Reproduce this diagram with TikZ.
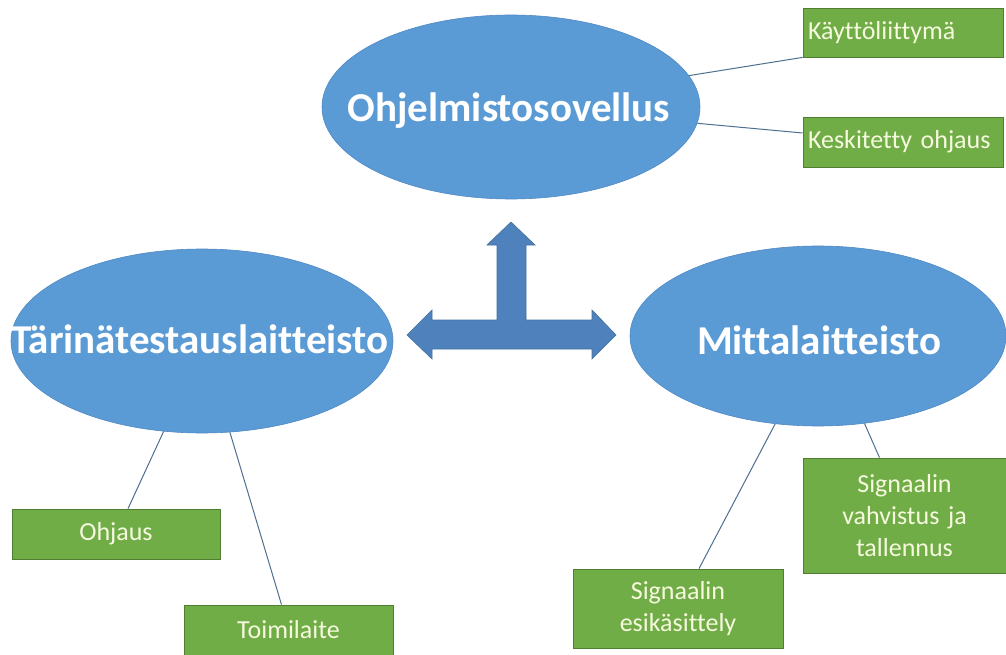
\documentclass[tikz,border=0pt]{standalone}
\usepackage{fontspec}
\setmainfont{Carlito}[RawFeature=-liga]
\usetikzlibrary{shapes.geometric,calc}
\definecolor{ellblue}{HTML}{5B9BD5}
\definecolor{ellborder}{HTML}{5089C4}
\definecolor{arrblue}{HTML}{4F81BD}
\definecolor{arrborder}{HTML}{41719C}
\definecolor{boxgreen}{HTML}{70AD47}
\definecolor{boxborder}{HTML}{507E32}
\definecolor{boxtext}{HTML}{F6F9DE}
\definecolor{linkcol}{HTML}{4F6F8F}
\tikzset{
  ell/.style={ellipse, fill=ellblue, draw=ellborder, line width=0.6pt, inner sep=0pt},
  elltext/.style={text=white, font=\bfseries\fontsize{41}{48}\selectfont, inner sep=0pt, anchor=base},
  gbox/.style={rectangle, fill=boxgreen, draw=boxborder, line width=0.8pt, inner xsep=5pt, inner ysep=0pt,
    text=boxtext, font=\fontsize{26}{32}\selectfont},
  link/.style={draw=linkcol, line width=1pt}
}
\begin{document}
\begin{tikzpicture}[x=1pt,y=-1pt]
\useasboundingbox (0,0) rectangle (1006,655);
\fill[white] (0,0) rectangle (1006,655);

% ellipses
\node[ell, minimum width=378pt, minimum height=184pt] (ohj) at (511,107) {};
\node[elltext] (ohjt) at (509,122) {Ohjelmistosovellus};
\node[ell, minimum width=382pt, minimum height=184pt] (tar) at (202,341) {};
\node[elltext] (tart) at (200,353) {Tärinätestauslaitteisto};
\node[ell, minimum width=376pt, minimum height=180pt] (mit) at (818,336) {};
\node[elltext] (mitt) at (819,354) {Mittalaitteisto};

% block arrow
\filldraw[fill=arrblue, draw=arrborder, line width=0.6pt, line join=miter]
  (407,335) -- (432,310) -- (432,320) -- (497,320) -- (497,245) -- (487,245)
  -- (511,222) -- (535,245) -- (526,245) -- (526,320) -- (592,320) -- (592,310)
  -- (616,335) -- (592,359) -- (592,349) -- (432,349) -- (432,359) -- cycle;

% boxes
\node[gbox, text width=190pt, minimum height=49pt, align=left] (kay) at (903,32.5) {Käyttöliittymä};
\node[gbox, text width=190pt, minimum height=50pt, align=left] (kes) at (903,142) {Keskitetty ohjaus};
\node[gbox, text width=198pt, minimum height=50pt, align=center] (ohja) at (116,534) {Ohjaus};
\node[gbox, text width=199pt, minimum height=50pt, align=center] (toi) at (288.5,630) {Toimilaite};
\node[gbox, text width=200pt, minimum height=79pt, align=center] (esi) at (678,608.5) {Signaalin\\esikäsittely};
\node[gbox, text width=193pt, minimum height=115pt, align=center] (vah) at (904.5,515.5) {Signaalin\\vahvistus ja\\tallennus};

% links
\draw[link] (ohj.10) -- (kay.south west);
\draw[link] (ohj.-5) -- ([yshift=9pt]kes.west);
\draw[link] (tar.-113) -- ([xshift=12pt]ohja.north);
\draw[link] (tar.-73) -- ([xshift=-7pt]toi.north);
\draw[link] (mit.-116) -- ([xshift=21pt]esi.north);
\draw[link] (mit.-62) -- ([xshift=-25pt]vah.north);
\end{tikzpicture}
\end{document}
